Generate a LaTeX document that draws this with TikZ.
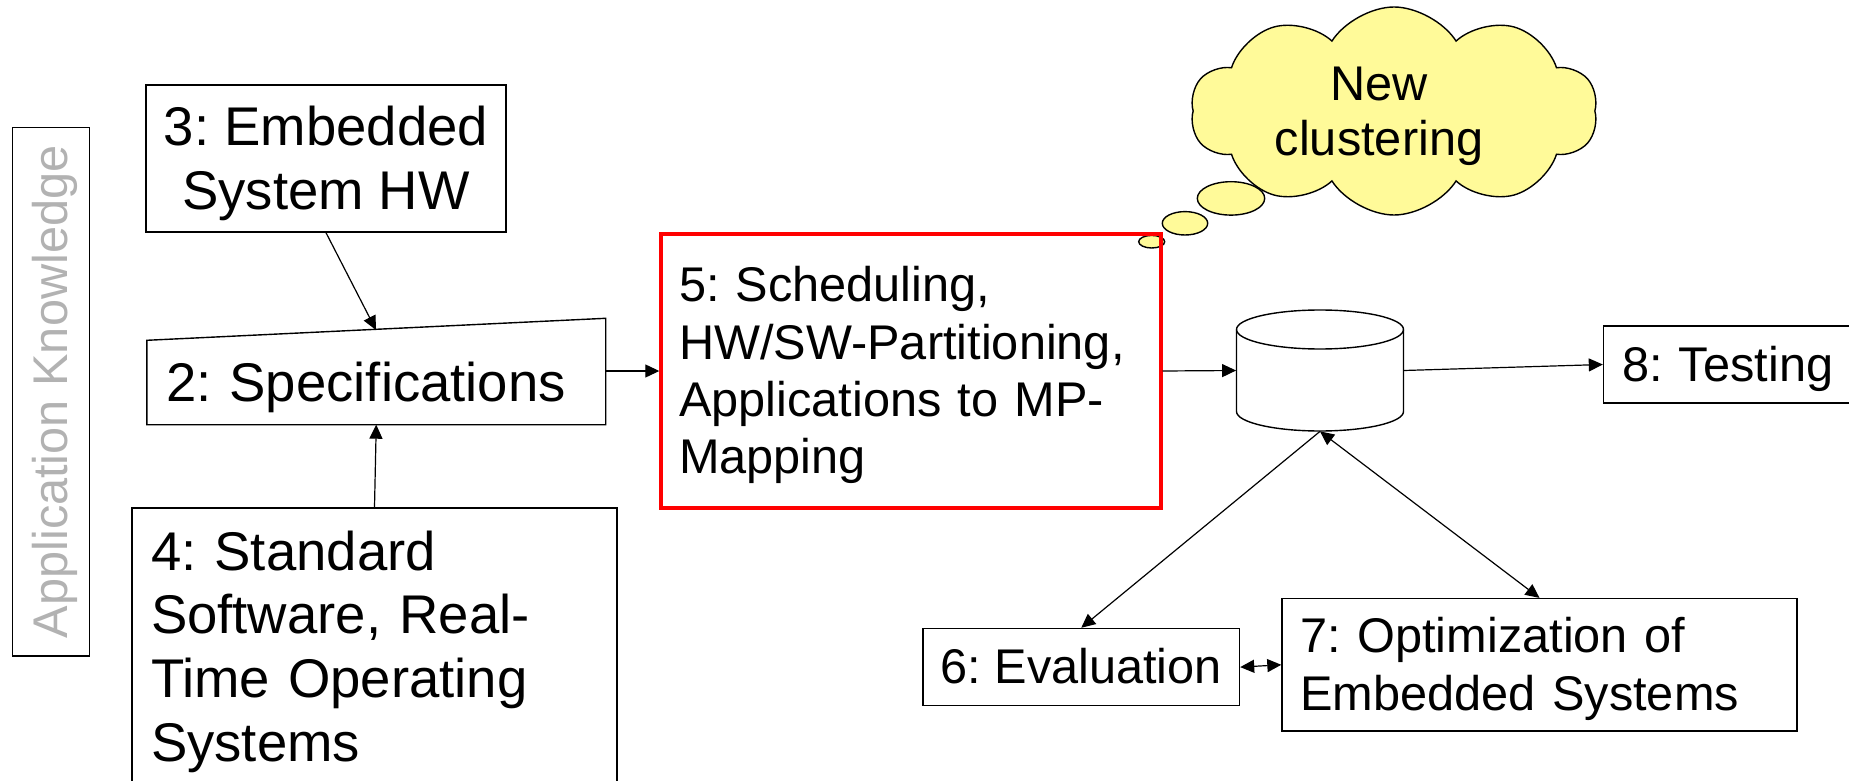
\documentclass[tikz,border=0pt]{standalone}
\usepackage{fontspec}
\setmainfont{Liberation Sans}
\usetikzlibrary{arrows.meta,shapes.symbols,calc}
\newcommand\fbig{\fontsize{27.25pt}{31.9pt}\selectfont}
\newcommand\fsml{\fontsize{24.35pt}{28.7pt}\selectfont}
\newcommand\fcld{\fontsize{24.35pt}{27.85pt}\selectfont}
\newcommand\ppsx{\rule[-0.212em]{0pt}{1.117em}}
\frenchspacing
\begin{document}
\frenchspacing
\begin{tikzpicture}[x=0.5pt,y=-0.5pt,
  box/.style={draw, line width=0.7pt, inner ysep=0pt, align=left, font=\fbig},
  sbox/.style={box, font=\fsml},
  arr/.style={-{Triangle[length=7pt,width=6.5pt]}, line width=0.6pt},
  arr2/.style={{Triangle[length=7pt,width=6.5pt]}-{Triangle[length=7pt,width=6.5pt]}, line width=0.6pt},
  bubble/.style={draw, line width=0.7pt, fill=yellow!40}]
\useasboundingbox (0,0) rectangle (1849,781);
\clip (0,0) rectangle (1849,781);

% application knowledge
\node[draw, line width=0.7pt, rotate=90, minimum width=264.15pt, minimum height=38.7pt,
      inner sep=0pt, text=black!30, font=\fsml] (appk) at (51,391.85) {\ppsx Application Knowledge};

% thought cloud
\node[cloud, cloud puffs=10, cloud puff arc=115, cloud ignores aspect, draw, line width=0.7pt,
      fill=yellow!40, minimum width=203.5pt, minimum height=104pt, align=center, font=\fcld,
      inner sep=0pt] (cloud) at (1394,111)
      {\hspace*{-15pt}\ppsx New\\\hspace*{-15pt}\ppsx clustering};
\draw[bubble] (1231,198.4) ellipse [x radius=16.85pt, y radius=8.35pt];
\draw[bubble] (1185,223.3) ellipse [x radius=11.35pt, y radius=5.85pt];
\draw[bubble] (1151.7,241.7) ellipse [x radius=6.5pt, y radius=3.15pt];

% boxes
\node[box, align=center, minimum width=180pt, minimum height=73.5pt] (b3) at (326,158.5)
  {\ppsx 3: Embedded\\\ppsx System HW};
\node[box, draw=none, minimum width=228.75pt, minimum height=41.5pt, inner xsep=9.25pt,
      text width=210.25pt] (spec) at (376.25,382.5) {\ppsx 2: Specifications};
\draw[line width=0.7pt] (spec.south west) -- (spec.north west)
  -- ($(spec.north east)+(0,-22)$) -- (spec.south east) -- cycle;
\coordinate (spectop) at (376,330);
\node[box, minimum width=242.5pt, minimum height=139pt, inner xsep=9.5pt, text width=223.5pt]
  (b4) at (374.5,647)
  {\ppsx 4: Standard\\\ppsx Software, Real-\\\ppsx Time Operating\\\ppsx Systems};
\node[sbox, draw=red, line width=1.7pt, minimum width=250pt, minimum height=137pt,
      inner xsep=9pt, text width=232pt] (b5) at (911,371)
  {\ppsx 5: Scheduling,\\\ppsx HW/SW-Partitioning,\\\ppsx Applications to MP-\\\ppsx Mapping};
\node[sbox, align=center, minimum width=158.25pt, minimum height=38.6pt] (b6) at (1081.25,667.1)
  {\ppsx 6: Evaluation};
\node[sbox, minimum width=257.5pt, minimum height=66.2pt, inner xsep=9.25pt, text width=239pt]
  (b7) at (1539.5,664.8) {\ppsx 7: Optimization of\\\ppsx Embedded Systems};
\node[sbox, minimum width=128.25pt, minimum height=38.5pt, inner xsep=9.25pt, text width=109.75pt]
  (b8) at (1731.75,364.5) {\ppsx 8: Testing};

% database cylinder
\node[minimum width=83.5pt, minimum height=60.5pt, inner sep=0pt] (db) at (1320,370.5) {};
\draw[line width=0.7pt, fill=white] (1236.5,329.5) -- (1236.5,411.5)
  arc [start angle=180, end angle=360, x radius=41.75pt, y radius=9.75pt] -- (1403.5,329.5);
\draw[line width=0.7pt] (1320,329.5) ellipse [x radius=41.75pt, y radius=9.75pt];

% connectors
\draw[arr] (b3.south) -- (spectop);
\draw[arr] (b4.north) -- (spec.south);
\draw[arr] (spec.east |- b5.west) -- (b5.west);
\draw[arr] (b5.east) -- (db.west);
\draw[arr] (db.east) -- (b8.west);
\draw[arr] (db.south) -- (b6.north);
\draw[arr2] (db.south) -- (b7.north);
\draw[arr2] (b6.east) -- (b7.west);
\end{tikzpicture}
\end{document}
